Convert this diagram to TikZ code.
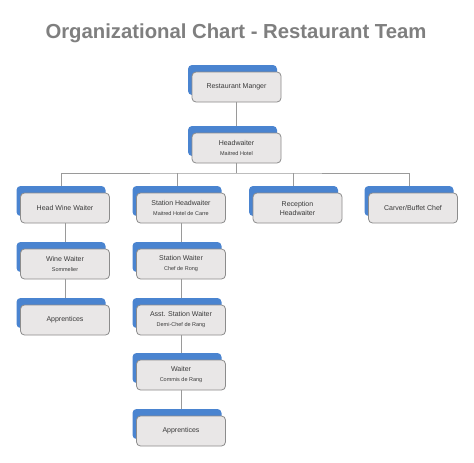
\documentclass[tikz,border=0pt]{standalone}
\usepackage{fontspec}
\setmainfont{Liberation Sans}
\usetikzlibrary{shadows,backgrounds}
\definecolor{boxfill}{HTML}{E9E7E7}
\definecolor{boxline}{HTML}{8C8C8C}
\definecolor{boxblue}{HTML}{4A84D0}
\definecolor{linkc}{HTML}{9A9A9A}
\definecolor{titlec}{HTML}{7F7F7F}
\definecolor{txt}{HTML}{3A3A3A}
\newcommand{\sublbl}[1]{{\fontsize{5.5}{6}\selectfont #1}}
\begin{document}
\begin{tikzpicture}[x=1pt,y=-1pt,
  orgbox/.style={draw=boxline, line width=0.8pt, fill=boxfill, rounded corners=4pt,
    minimum width=89pt, minimum height=30pt, inner sep=0pt, align=center, text=txt,
    font=\fontsize{7}{9}\selectfont,
    drop shadow={shadow xshift=-4pt, shadow yshift=7pt, fill=boxblue, opacity=1, draw=none}},
  link/.style={draw=linkc, line width=0.9pt},
  title/.style={text=titlec, font=\fontsize{20.3}{24}\bfseries\selectfont}]
\useasboundingbox (0,0) rectangle (474,463);
\node[title] (t) at (236,33) {Organizational Chart - Restaurant Team};
\node[orgbox] (rm) at (236.5,87) {Restaurant Manger};
\node[orgbox] (hw) at (236.5,148) {Headwaiter\\[1pt]\sublbl{Maitred Hotel}};
\node[orgbox] (hww) at (65,208) {Head Wine Waiter};
\node[orgbox] (shw) at (181,208) {Station Headwaiter\\[1pt]\sublbl{Maitred Hotel de Carre}};
\node[orgbox] (rh) at (297.5,208) {Reception\\Headwaiter};
\node[orgbox] (cbc) at (413,208) {Carver/Buffet Chef};
\node[orgbox] (ww) at (65,264) {Wine Waiter\\[1pt]\sublbl{Sommelier}};
\node[orgbox] (sw) at (181,264) {Station Waiter\\[1pt]\sublbl{Chef de Rong}};
\node[orgbox] (ap1) at (65,320) {Apprentices};
\node[orgbox] (asw) at (181,320) {Asst. Station Waiter\\[1pt]\sublbl{Demi-Chef de Rang}};
\node[orgbox] (wt) at (181,375) {Waiter\\[1pt]\sublbl{Commis de Rang}};
\node[orgbox] (ap2) at (181,431) {Apprentices};
\coordinate (bus) at (236.5,173);
\begin{scope}[on background layer]
\fill[white] (0,0) rectangle (474,463);
\draw[link] (rm.south) -- (hw.north);
\draw[link] (hw.south) -- (bus);
\draw[link] ([xshift=-4pt]hww.north) |- (bus) -| ([xshift=-4pt]cbc.north);
\draw[link] ([xshift=-4pt]shw.north) -- ([xshift=-4pt]shw.north |- bus);
\draw[link] ([xshift=-4pt]rh.north) -- ([xshift=-4pt]rh.north |- bus);
\draw[link] (hww.south) -- (ww.north);
\draw[link] (ww.south) -- (ap1.north);
\draw[link] (shw.south) -- (sw.north);
\draw[link] (sw.south) -- (asw.north);
\draw[link] (asw.south) -- (wt.north);
\draw[link] (wt.south) -- (ap2.north);
\end{scope}
\end{tikzpicture}
\end{document}
